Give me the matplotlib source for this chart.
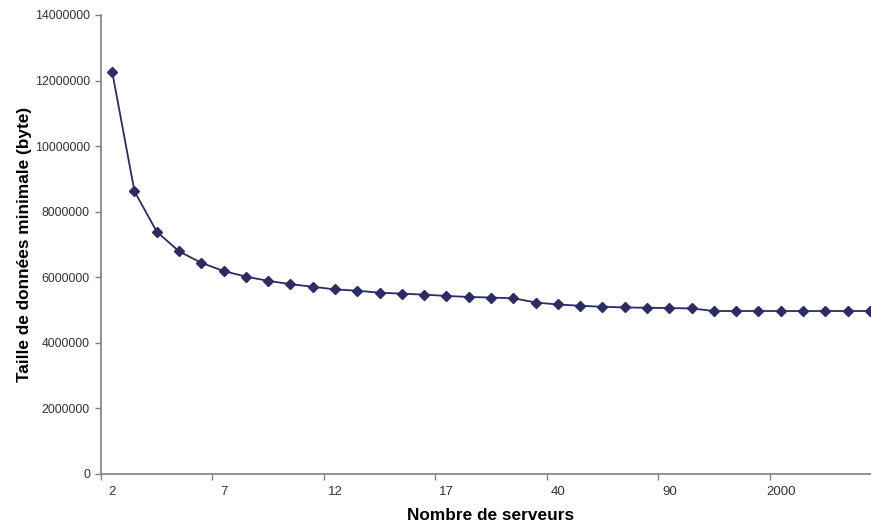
import matplotlib
matplotlib.use('Agg')
from matplotlib import pyplot as plt

# --- data ---
servers = [2, 3, 4, 5, 6, 7, 8, 9, 10, 11, 12, 13, 14, 15, 16, 17, 18, 19, 20,
           30, 40, 50, 60, 70, 80, 90, 100, 200, 500, 1000, 2000, 3000, 4000, 5000, 10000]
min_size = [12270000, 8620000, 7390000, 6790000, 6440000, 6190000, 6020000, 5890000,
            5790000, 5710000, 5630000, 5590000, 5530000, 5500000, 5470000, 5430000,
            5400000, 5380000, 5360000, 5230000, 5170000, 5130000, 5100000, 5080000,
            5070000, 5060000, 5050000, 4970000, 4970000, 4970000, 4970000, 4970000,
            4970000, 4970000, 4970000]

COLOR = '#2b2b66'
AXIS_COLOR = '#7f7f7f'

plt.rcParams['font.family'] = ['Liberation Sans', 'DejaVu Sans']

fig = plt.figure(figsize=(8.71, 5.27), dpi=100)
ax = fig.add_axes([0.116, 0.1006, 0.8955, 0.871])

idx = list(range(len(servers)))
ax.plot(idx, min_size, color=COLOR, linewidth=1.3, marker='D', markersize=4.6,
        markerfacecolor=COLOR, markeredgecolor=COLOR, clip_on=False)

ax.set_xlim(-0.5, len(servers) - 0.5)
ax.set_ylim(0, 14000000)

# category axis: tick marks between categories, labels every 5th category
ax.set_xticks([i - 0.5 for i in range(0, len(servers), 5)])
ax.set_xticklabels([])
ax.set_xticks(list(range(0, len(servers), 5)), minor=True)
ax.set_xticklabels([str(servers[i]) for i in range(0, len(servers), 5)], minor=True,
                   family=['Liberation Sans Narrow', 'Liberation Sans', 'DejaVu Sans'])
ax.tick_params(axis='x', which='minor', length=0, pad=9, labelsize=9.5, labelcolor='#333333')
ax.tick_params(axis='x', which='major', length=4, color=AXIS_COLOR, width=1)

ax.set_yticks(range(0, 14000001, 2000000))
ax.set_yticklabels([str(v) for v in range(0, 14000001, 2000000)])
ax.tick_params(axis='y', length=4, color=AXIS_COLOR, width=1, labelsize=8.9,
               labelcolor='#333333', pad=4)

for side in ['top', 'right']:
    ax.spines[side].set_visible(False)
for side in ['left', 'bottom']:
    ax.spines[side].set_color(AXIS_COLOR)
    ax.spines[side].set_linewidth(1.2)

ax.set_xlabel('Nombre de serveurs', fontsize=12.4, fontweight='bold', labelpad=7)
ax.set_ylabel('Taille de données minimale (byte)', fontsize=12.4, fontweight='bold')
ax.yaxis.set_label_coords(-0.0885, 0.5)

plt.savefig('out.png', dpi=100)
plt.close(fig)
